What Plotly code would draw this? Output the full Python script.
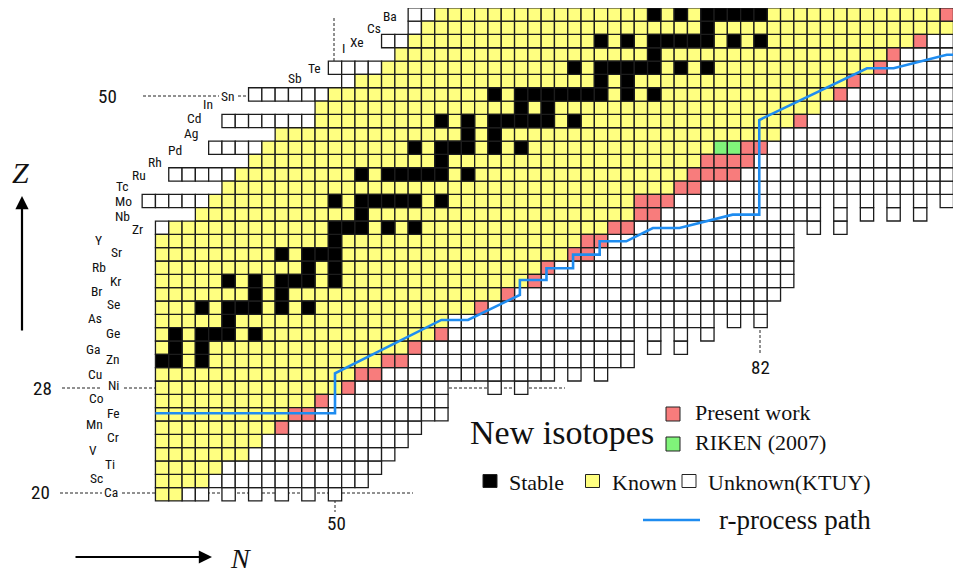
import plotly.graph_objects as go

# ---------------- data ----------------
elements = ["Ca", "Sc", "Ti", "V", "Cr", "Mn", "Fe", "Co", "Ni", "Cu", "Zn", "Ga", "Ge", "As",
            "Se", "Br", "Kr", "Rb", "Sr", "Y", "Zr", "Nb", "Mo", "Tc", "Ru", "Rh", "Pd", "Ag",
            "Cd", "In", "Sn", "Sb", "Te", "I", "Xe", "Cs", "Ba"]
proton_numbers = list(range(20, 57))

# first / last known neutron number per element (chart starts at N=37)
known_first_N = [37] * 20 + [38, 40, 41, 42, 43, 44, 45, 46, 49, 49, 50, 52, 54, 55, 56, 57, 58]
known_last_N = [38, 40, 41, 43, 44, 45, 46, 48, 50, 51, 53, 55, 57, 58, 60, 62, 64, 65, 67, 68,
                70, 72, 72, 75, 76, 77, 78, 83, 84, 86, 87, 88, 90, 91, 93, 96, 95]

# stable isotopes (Z -> N list)
stable_N = {
    30: [37, 38, 40], 31: [38, 40], 32: [38, 40, 41, 42, 44], 33: [42],
    34: [40, 42, 43, 44, 46, 48], 35: [44, 46], 36: [42, 44, 46, 47, 48, 50],
    37: [48, 50], 38: [46, 48, 49, 50], 39: [50], 40: [50, 51, 52, 54, 56], 41: [52],
    42: [50, 52, 53, 54, 55, 56, 58], 44: [52, 54, 55, 56, 57, 58, 60], 45: [58],
    46: [56, 58, 59, 60, 62, 64], 47: [60, 62], 48: [58, 60, 62, 63, 64, 65, 66, 68],
    49: [64, 66], 50: [62, 64, 65, 66, 67, 68, 69, 70, 72, 74], 51: [70, 72],
    52: [68, 70, 71, 72, 73, 74, 76, 78], 53: [74],
    54: [70, 72, 74, 75, 76, 77, 78, 80, 82], 55: [78],
    56: [74, 76, 78, 79, 80, 81, 82],
}

# new isotopes, present work
present_Z = [25, 26, 26, 27, 28, 29, 29, 30, 30, 31, 32, 34, 35, 36, 37, 38, 38, 39, 39, 40, 40,
             41, 41, 42, 42, 42, 43, 43, 44, 44, 44, 44, 45, 45, 45, 45, 46, 46, 48, 50, 51, 52,
             53, 54, 56]
present_N = [46, 47, 48, 49, 51, 52, 53, 54, 55, 56, 58, 61, 63, 65, 66, 68, 69, 69, 70, 71, 72,
             73, 74, 73, 74, 75, 76, 77, 77, 78, 79, 80, 78, 79, 80, 81, 81, 82, 85, 88, 89, 91,
             92, 94, 96]
# new isotopes, RIKEN (2007)
riken_Z = [46, 46]
riken_N = [79, 80]

# unknown (KTUY) cells on the proton-rich side: Z, first N, last N
unk_left_Z = [40, 42, 44, 46, 48, 50, 51, 52, 54, 55, 56]
unk_left_first = [37, 36, 38, 41, 42, 44, 51, 50, 54, 56, 56]
unk_left_last = [37, 40, 42, 44, 48, 49, 51, 53, 55, 56, 57]

# unknown (KTUY) cells on the neutron-rich side: lowest Z for each N
unk_right_N = list(range(39, 98))
unk_right_zmin = [20, 20, 21, 20, 21, 20, 21, 20, 21, 20, 21, 20, 21, 21,   # N39-52
                  22, 23, 24, 25, 26, 26, 29, 29, 29, 28, 29, 28, 29, 29,   # N53-66
                  30, 29, 30, 29, 30, 30, 33, 31, 33, 31, 33, 32, 34, 33,   # N67-80
                  34, 33, 35, 36, 41, 40, 43, 40, 43, 41, 43, 41, 43, 41,   # N81-94
                  43, 42, 43]                                               # N95-97

# r-process path (N, Z)
rpath_N = [36.5, 50, 50, 58, 60, 63.9, 63.9, 65.9, 65.9, 67.9, 67.9, 69.9, 69.9, 71.9, 73.9,
           75.9, 79.9, 81.9, 81.9, 90, 92, 96, 97.2]
rpath_Z = [26.08, 26.08, 29.08, 33.08, 33.08, 34.96, 36.08, 36.08, 36.96, 36.96, 37.98, 37.98,
           38.98, 38.98, 39.98, 39.98, 40.98, 40.98, 48.08, 51.96, 51.96, 52.98, 52.98]

# ---------------- geometry (page pixel coordinates; body margin is 8 px) ----------------
OFF = 8
FW, FH = 961 - OFF, 575 - OFF
CX, CY = 13.3, 13.33          # cell size in px
N_LEFT = 50 + (OFF - 335) / CX
N_RIGHT = 50 + (961 - 335) / CX
Z_TOP = 20 + (494.3 - OFF) / CY
Z_BOTTOM = 20 - (575 - 494.3) / CY


def px(x):
    return (x - OFF) / FW


def py(y):
    return 1 - (y - OFF) / FH


# ---------------- build cells ----------------
cat = {k: ([], []) for k in ["stable", "known", "present", "riken", "unknown"]}
last_filled = {}
for i, Z in enumerate(proton_numbers):
    for N in range(known_first_N[i], known_last_N[i] + 1):
        key = "stable" if N in stable_N.get(Z, []) else "known"
        cat[key][0].append(N)
        cat[key][1].append(Z)
    last_filled[Z] = known_last_N[i]
for Z, N in zip(present_Z, present_N):
    cat["present"][0].append(N)
    cat["present"][1].append(Z)
    last_filled[Z] = max(last_filled[Z], N)
for Z, N in zip(riken_Z, riken_N):
    cat["riken"][0].append(N)
    cat["riken"][1].append(Z)
    last_filled[Z] = max(last_filled[Z], N)
for Z, a, b in zip(unk_left_Z, unk_left_first, unk_left_last):
    for N in range(a, b + 1):
        cat["unknown"][0].append(N)
        cat["unknown"][1].append(Z)
for N, zmin in zip(unk_right_N, unk_right_zmin):
    for Z in range(zmin, 57):
        if N > last_filled[Z]:
            cat["unknown"][0].append(N)
            cat["unknown"][1].append(Z)

colors = {"unknown": "#ffffff", "known": "#ffff80", "stable": "#000000",
          "present": "#f87c7c", "riken": "#80f47a"}

fig = go.Figure()
for k in ["unknown", "known", "stable", "present", "riken"]:
    xs, ys = cat[k]
    fig.add_trace(go.Scatter(
        x=xs, y=ys, mode="markers", hoverinfo="skip", showlegend=False,
        marker=dict(symbol="square", size=CX, color=colors[k],
                    line=dict(color="#1c1c1c", width=1.3))))

fig.add_trace(go.Scatter(x=rpath_N, y=rpath_Z, mode="lines", hoverinfo="skip", showlegend=False,
                         line=dict(color="#1e8cf0", width=2.6)))

# ---------------- decorations ----------------
shapes = []
dash = dict(color="#222", width=1, dash="3px,2px")


def hline(x0, x1, y):
    shapes.append(dict(type="line", xref="paper", yref="paper", x0=px(x0), x1=px(x1),
                       y0=py(y), y1=py(y), line=dash, layer="below"))


def vline(x, y0, y1):
    shapes.append(dict(type="line", xref="paper", yref="paper", x0=px(x), x1=px(x),
                       y0=py(y0), y1=py(y1), line=dash, layer="below"))


hline(143, 219, 96)
hline(238, 248, 96)
hline(62, 102, 388)
hline(124, 565, 388)
hline(60, 102, 493)
hline(122, 413, 493)
vline(335, 500, 512)
vline(334, 18, 62)
vline(760, 330, 354)

annotations = []


def text(t, x, y, font, xanchor="center"):
    annotations.append(dict(text=t, x=px(x), y=py(y), xref="paper", yref="paper",
                            showarrow=False, font=font, xanchor=xanchor, yanchor="middle"))


narrow = "Liberation Sans Narrow, Roboto Condensed, Arial Narrow, sans-serif"
label_font = dict(family=narrow, size=13.5, color="#111")
label_pos = {
    "Ba": (390, 16), "Cs": (374, 28), "Xe": (357, 42), "I": (343, 48), "Te": (314, 68),
    "Sb": (295, 78), "Sn": (228, 96), "In": (208, 104), "Cd": (194, 118), "Ag": (191, 133),
    "Pd": (175, 150), "Rh": (155, 162), "Ru": (139, 175), "Tc": (122, 186), "Mo": (123, 201),
    "Nb": (122, 216), "Zr": (137, 229), "Y": (98, 240), "Sr": (116, 252), "Rb": (99, 267),
    "Kr": (115, 281), "Br": (96, 291), "Se": (113, 304), "As": (95, 318), "Ge": (113, 333),
    "Ga": (93, 349), "Zn": (113, 359), "Cu": (95, 374), "Ni": (113, 385), "Co": (96, 398),
    "Fe": (113, 413), "Mn": (94, 424), "Cr": (113, 437), "V": (93, 450), "Ti": (110, 464),
    "Sc": (96, 478), "Ca": (111, 492),
}
for el in elements:
    x, y = label_pos[el]
    text(el, x, y, label_font)

num_font = dict(family=narrow, size=19, color="#111")
for t, x, y in [("50", 107, 97), ("28", 42, 388), ("20", 40, 492), ("50", 336, 523), ("82", 760, 367)]:
    text(t, x, y, num_font)

serif = "Liberation Serif, Times New Roman, serif"
text("<i>Z</i>", 20, 172, dict(family=serif, size=30, color="#111"))
text("<i>N</i>", 240, 558, dict(family=serif, size=28, color="#111"))
# arrows
annotations.append(dict(text="", x=px(22), y=py(196), xref="paper", yref="paper",
                        ax=0, ay=136, showarrow=True, arrowhead=2, arrowsize=1.2,
                        arrowwidth=2.2, arrowcolor="#000"))
annotations.append(dict(text="", x=px(212), y=py(557), xref="paper", yref="paper",
                        ax=-138, ay=0, showarrow=True, arrowhead=2, arrowsize=1.2,
                        arrowwidth=2.2, arrowcolor="#000"))

# legend
text("New isotopes", 468, 432, dict(family=serif, size=34, color="#111"), "left")
leg = [("Present work", 673, 414, colors["present"]),
       ("RIKEN (2007)", 673, 444, colors["riken"])]
for t, x, y, c in leg:
    shapes.append(dict(type="rect", xref="paper", yref="paper", x0=px(x - 7), x1=px(x + 7),
                       y0=py(y + 7), y1=py(y - 7), fillcolor=c, line=dict(color="#222", width=1)))
    text(t, x + 20, y - 2, dict(family=serif, size=22, color="#111"), "left")
leg2 = [("Stable", 490, colors["stable"]), ("Known", 592.5, colors["known"]),
        ("Unknown(KTUY)", 689, colors["unknown"])]
for t, x, c in leg2:
    y = 481
    shapes.append(dict(type="rect", xref="paper", yref="paper", x0=px(x - 7), x1=px(x + 7),
                       y0=py(y + 6.5), y1=py(y - 6.5), fillcolor=c, line=dict(color="#222", width=1)))
    text(t, x + 17, y + 1, dict(family=serif, size=22, color="#111"), "left")
shapes.append(dict(type="line", xref="paper", yref="paper", x0=px(643), x1=px(700),
                   y0=py(520), y1=py(520), line=dict(color="#1e8cf0", width=2.6)))
text("r-process path", 717, 520, dict(family=serif, size=27, color="#111"), "left")

fig.update_layout(
    width=FW, height=FH, margin=dict(l=0, r=0, t=0, b=0),
    paper_bgcolor="white", plot_bgcolor="white",
    xaxis=dict(range=[N_LEFT, N_RIGHT], visible=False, fixedrange=True),
    yaxis=dict(range=[Z_BOTTOM, Z_TOP], visible=False, fixedrange=True),
    shapes=shapes, annotations=annotations,
)
fig.write_html("out.html")
